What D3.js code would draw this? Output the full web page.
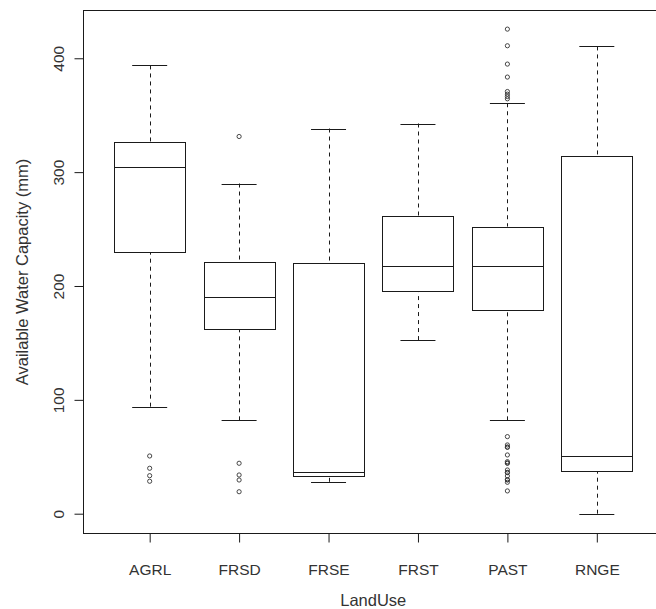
<!DOCTYPE html>
<html>
<head>
<meta charset="utf-8">
<script src="https://cdn.jsdelivr.net/npm/d3@7"></script>
<style>
  body { margin: 0; background: #fff; }
  svg { display: block; }
  text { font-family: "Liberation Sans", Arial, sans-serif; fill: #333; }
</style>
</head>
<body>
<svg width="656" height="609"></svg>
<script>
// values
const categories = ['AGRL', 'FRSD', 'FRSE', 'FRST', 'PAST', 'RNGE'];
const whiskerLow = [94, 82, 28, 152.5, 82, 0];
const q1 = [229.7, 162, 33, 195.7, 179, 37.5];
const median = [304.4, 190.4, 37, 217.4, 217.4, 50.4];
const q3 = [326.4, 221, 220.3, 261.3, 252.2, 314.6];
const whiskerHigh = [393.7, 290, 338.3, 342.7, 360.5, 410.4];
const outliers = [
  [50.7, 39.9, 33.4, 28.5],
  [331.3, 44.3, 34, 29.6, 19.3],
  [],
  [],
  [425.6, 411, 394.9, 383.5, 370.8, 368.5, 366.4, 364.4,
   67.7, 60.4, 58.3, 58.6, 51.6, 45.7, 44.3, 44.6, 38.4, 36, 36.3, 33.1, 29.6, 29.9, 27.6, 20],
  []
];
const yTicks = [0, 100, 200, 300, 400];

const svg = d3.select('svg');
const plot = { left: 83.5, right: 663, top: 10.5, bottom: 533.5 };

const xScale = d3.scaleLinear()
  .domain([0.26, 6.74])
  .range([plot.left, plot.right]);

const yScale = d3.scaleLinear()
  .domain([-16.95, 442.4])
  .range([533, 10]);

const boxHalf = 35.5;
const capHalf = 17.5;
const ink = '#1a1a1a';

const data = categories.map((c, i) => ({
  name: c,
  x: xScale(i + 1),
  lo: whiskerLow[i], q1: q1[i], med: median[i], q3: q3[i], hi: whiskerHigh[i],
  out: outliers[i]
}));

const g = svg.append('g');

// whiskers (dashed)
g.selectAll('.wl').data(data).enter().append('line')
  .attr('x1', d => Math.round(d.x) + 0.5).attr('x2', d => Math.round(d.x) + 0.5)
  .attr('y1', d => yScale(d.lo)).attr('y2', d => yScale(d.q1))
  .attr('stroke', ink).attr('stroke-dasharray', '4,4');
g.selectAll('.wh').data(data).enter().append('line')
  .attr('x1', d => Math.round(d.x) + 0.5).attr('x2', d => Math.round(d.x) + 0.5)
  .attr('y1', d => yScale(d.hi)).attr('y2', d => yScale(d.q3))
  .attr('stroke', ink).attr('stroke-dasharray', '4,4');

// caps
['lo', 'hi'].forEach(k => {
  g.selectAll('.cap-' + k).data(data).enter().append('line')
    .attr('x1', d => d.x - capHalf).attr('x2', d => d.x + capHalf)
    .attr('y1', d => Math.round(yScale(d[k])) + 0.5).attr('y2', d => Math.round(yScale(d[k])) + 0.5)
    .attr('stroke', ink);
});

// boxes
g.selectAll('.box').data(data).enter().append('rect')
  .attr('x', d => Math.round(d.x - boxHalf) + 0.5)
  .attr('width', boxHalf * 2)
  .attr('y', d => Math.round(yScale(d.q3)) + 0.5)
  .attr('height', d => Math.round(yScale(d.q1)) - Math.round(yScale(d.q3)))
  .attr('fill', 'white').attr('stroke', ink);

// medians
g.selectAll('.med').data(data).enter().append('line')
  .attr('x1', d => Math.round(d.x - boxHalf) + 0.5).attr('x2', d => Math.round(d.x - boxHalf) + 0.5 + boxHalf * 2)
  .attr('y1', d => Math.round(yScale(d.med)) + 0.5).attr('y2', d => Math.round(yScale(d.med)) + 0.5)
  .attr('stroke', ink).attr('stroke-width', 1.2);

// outliers
data.forEach(d => {
  g.selectAll(null).data(d.out).enter().append('circle')
    .attr('cx', d.x).attr('cy', v => yScale(v))
    .attr('r', 2.1)
    .attr('fill', 'none').attr('stroke', '#333').attr('stroke-width', 0.9);
});

// frame
svg.append('rect')
  .attr('x', plot.left).attr('y', plot.top)
  .attr('width', plot.right - plot.left).attr('height', plot.bottom - plot.top)
  .attr('fill', 'none').attr('stroke', ink);

// y axis
const yAxis = svg.append('g')
  .attr('transform', `translate(${plot.left},0)`)
  .call(d3.axisLeft(yScale).tickValues(yTicks).tickSize(9).tickPadding(13));
yAxis.select('.domain').remove();
yAxis.selectAll('.tick line').attr('stroke', ink);
yAxis.selectAll('.tick text')
  .attr('transform', 'rotate(-90)')
  .attr('x', 0).attr('y', -20)
  .attr('dy', 0)
  .style('text-anchor', 'middle')
  .style('font-size', '15.5px')
  .style('font-family', '"Liberation Sans", Arial, sans-serif')
  .attr('fill', '#333');

// x axis
const xAxis = svg.append('g')
  .attr('transform', `translate(0,${plot.bottom})`)
  .call(d3.axisBottom(xScale).tickValues(d3.range(1, categories.length + 1))
    .tickFormat(i => categories[i - 1]).tickSize(9).tickPadding(21));
xAxis.select('.domain').remove();
xAxis.selectAll('.tick line').attr('stroke', ink);
xAxis.selectAll('.tick text')
  .style('font-size', '15.5px')
  .style('font-family', '"Liberation Sans", Arial, sans-serif')
  .attr('fill', '#333');

// axis titles
svg.append('text')
  .attr('x', (plot.left + 663) / 2).attr('y', 606)
  .style('text-anchor', 'middle').style('font-size', '16.5px')
  .text('LandUse');

svg.append('text')
  .attr('transform', `translate(28,${(plot.top + plot.bottom) / 2}) rotate(-90)`)
  .style('text-anchor', 'middle').style('font-size', '16.5px')
  .text('Available Water Capacity (mm)');
</script>
</body>
</html>
